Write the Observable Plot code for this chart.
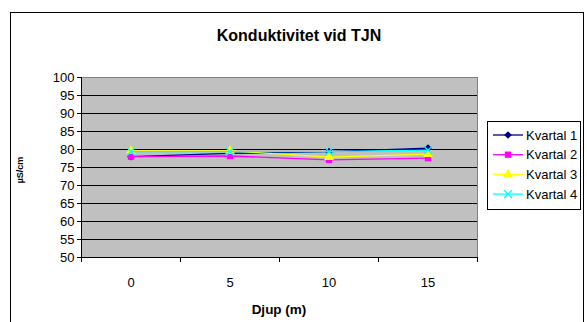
<!DOCTYPE html>
<html>
<head>
<meta charset="utf-8">
<script src="https://cdn.jsdelivr.net/npm/d3@7"></script>
<script src="https://cdn.jsdelivr.net/npm/@observablehq/plot@0.6"></script>
<style>
  body { margin: 0; background: #fff; overflow: hidden; font-family: Arial, "Liberation Sans", sans-serif; }
  #wrap { position: relative; width: 587px; height: 322px; }
  #frame { position: absolute; left: 10px; top: 12px; width: 574px; height: 400px; border: 1px solid #000; box-sizing: border-box; }
  #title { position: absolute; left: 0; top: 26px; width: 598px; text-align: center; font-weight: bold; font-size: 16px; line-height: 20px; }
  #xlabel { position: absolute; left: 0; top: 302px; width: 558px; text-align: center; font-weight: bold; font-size: 13.5px; line-height: 16px; }
  #ylabel { position: absolute; left: 20px; top: 170px; transform: translate(-50%, -50%) rotate(-90deg); font-weight: bold; font-size: 9px; white-space: nowrap; }
  #chart { position: absolute; left: 0; top: 0; }
  #legend { position: absolute; left: 487px; top: 121px; }
</style>
</head>
<body>
<div id="wrap">
  <div id="frame"></div>
  <div id="chart"></div>
  <div id="title">Konduktivitet vid TJN</div>
  <div id="xlabel">Djup (m)</div>
  <div id="ylabel">µS/cm</div>
  <div id="legend"></div>
</div>
<script>
// Depth categories (m) and conductivity per quarter (µS/cm)
const depths = [0, 5, 10, 15];
const kvartal1 = [78.0, 78.9, 79.4, 80.4];
const kvartal2 = [78.0, 78.2, 77.1, 77.6];
const kvartal3 = [79.6, 79.6, 77.9, 78.7];
const kvartal4 = [79.4, 79.4, 79.4, 79.8];
const seriesNames = ["Kvartal 1", "Kvartal 2", "Kvartal 3", "Kvartal 4"];
const seriesValues = [kvartal1, kvartal2, kvartal3, kvartal4];
const yTicks = [50, 55, 60, 65, 70, 75, 80, 85, 90, 95, 100];

// Compact square-ish diamond marker
const smallDiamond = {
  draw(context, size) {
    const r = Math.sqrt(size / 2);
    context.moveTo(0, -r);
    context.lineTo(r, 0);
    context.lineTo(0, r);
    context.lineTo(-r, 0);
    context.closePath();
  }
};

const styles = [
  {color: "#000080", symbol: smallDiamond, fill: true, size: 30},
  {color: "#FF00FF", symbol: d3.symbolSquare, fill: true, size: 40},
  {color: "#FFFF00", symbol: d3.symbolTriangle, fill: true, size: 42},
  {color: "#00FFFF", symbol: d3.symbolTimes, fill: false, size: 40}
];

const rows = seriesNames.flatMap((name, i) =>
  depths.map((d, j) => ({series: name, depth: d, value: seriesValues[i][j]})));

// category edges for the x-axis tick marks
const edges = [-2.5, 2.5, 7.5, 12.5, 17.5];

const seriesMarks = seriesNames.flatMap((name, i) => {
  const data = rows.filter(r => r.series === name);
  const s = styles[i];
  return [
    Plot.line(data, {x: "depth", y: "value", stroke: s.color, strokeWidth: 1.3}),
    Plot.dot(data, {
      x: "depth", y: "value", symbol: () => s.symbol, r: Math.sqrt(s.size / Math.PI),
      fill: s.fill ? s.color : "none", stroke: s.fill ? "none" : s.color, strokeWidth: 1.3
    })
  ];
});

const chart = Plot.plot({
  width: 587,
  height: 322,
  marginLeft: 81,
  marginRight: 110,
  marginTop: 77,
  marginBottom: 65,
  style: {background: "transparent", fontFamily: "Arial, 'Liberation Sans', sans-serif", color: "#000"},
  x: {type: "linear", domain: [-2.5, 17.5]},
  y: {domain: [50, 100]},
  symbol: {type: "identity"},
  marks: [
    Plot.frame({fill: "#C0C0C0", stroke: "#808080"}),
    Plot.gridY(yTicks.filter(t => t > 50 && t < 100), {stroke: "#000", strokeOpacity: 1, strokeWidth: 1}),
    Plot.axisY(yTicks, {tickSize: 4, tickPadding: 3, fontSize: 13, label: null}),
    Plot.axisX(edges, {tickSize: 5, tickFormat: () => "", label: null}),
    Plot.axisX(depths, {tickSize: 0, tickPadding: 20, fontSize: 13, label: null}),
    Plot.ruleY([50], {stroke: "#000"}),
    Plot.ruleX([-2.5], {stroke: "#000"}),
    ...seriesMarks
  ]
});
document.getElementById("chart").appendChild(chart);

// Legend box
const lw = 93, lh = 88;
const leg = d3.create("svg").attr("width", lw + 1).attr("height", lh + 1)
  .style("font-family", "Arial, 'Liberation Sans', sans-serif");
leg.append("rect").attr("x", 0.5).attr("y", 0.5).attr("width", lw).attr("height", lh)
  .attr("fill", "#fff").attr("stroke", "#000");
seriesNames.forEach((name, i) => {
  const s = styles[i];
  const cy = 14 + i * 19.7;
  const g = leg.append("g").attr("transform", `translate(0,${cy})`);
  g.append("line").attr("x1", 6).attr("x2", 36).attr("y1", 0).attr("y2", 0)
    .attr("stroke", s.color).attr("stroke-width", 1.3);
  g.append("path").attr("transform", "translate(21,0)")
    .attr("d", d3.symbol(s.symbol, s.size)())
    .attr("fill", s.fill ? s.color : "none").attr("stroke", s.fill ? "none" : s.color).attr("stroke-width", 1.3);
  g.append("text").attr("x", 39).attr("y", 0).attr("dy", "0.35em")
    .attr("font-size", 13).text(name);
});
document.getElementById("legend").appendChild(leg.node());
</script>
</body>
</html>
